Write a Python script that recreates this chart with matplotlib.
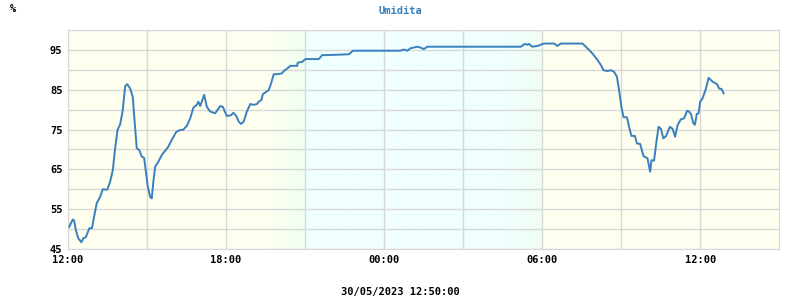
import matplotlib
matplotlib.use("Agg")
import matplotlib.pyplot as plt
import numpy as np
from matplotlib.colors import LinearSegmentedColormap

FIG_SIZE = (8, 3)
DPI = 100
LINE_COLOR = '#3a7fbf'
GRID_COLOR = '#d8d8d8'
DAY_COLOR = '#fffff0'
DUSK_COLOR = '#f0fff0'
NIGHT_COLOR = '#f0ffff'
FONT = 'DejaVu Sans Mono'

TITLE = "Umidita"
UNIT = "%"
TIMESTAMP = "30/05/2023 12:50:00"

# hours elapsed since 12:00 of the first day
hours = [0.05, 0.18, 0.23, 0.30, 0.39, 0.51, 0.58, 0.68, 0.81, 0.91, 0.99, 1.09,
         1.22, 1.32, 1.49, 1.60, 1.70, 1.79, 1.88, 1.98, 2.08, 2.17, 2.25, 2.36,
         2.46, 2.52, 2.61, 2.71, 2.80, 2.89, 2.95, 3.03, 3.12, 3.18, 3.24, 3.31,
         3.43, 3.56, 3.69, 3.81, 3.94, 4.11, 4.26, 4.36, 4.51, 4.64, 4.76, 4.89,
         4.95, 5.02, 5.17, 5.27, 5.40, 5.59, 5.78, 5.88, 6.03, 6.19, 6.28, 6.39,
         6.48, 6.57, 6.67, 6.79, 6.92, 7.05, 7.17, 7.24, 7.34, 7.40, 7.49, 7.62,
         7.71, 7.81, 7.96, 8.12, 8.19, 8.34, 8.44, 8.70, 8.72, 8.89, 9.01, 9.52,
         9.65, 9.84, 10.66, 10.82, 12.62, 12.75, 12.88, 13.00, 13.13, 13.26, 13.38,
         13.51, 13.64, 17.19, 17.34, 17.44, 17.50, 17.63, 17.82, 18.07, 18.45,
         18.58, 18.71, 19.53, 19.72, 19.91, 20.10, 20.23, 20.33, 20.48, 20.61,
         20.73, 20.84, 20.92, 21.01, 21.09, 21.22, 21.30, 21.39, 21.52, 21.60,
         21.72, 21.85, 22.00, 22.10, 22.15, 22.25, 22.33, 22.42, 22.51, 22.60,
         22.70, 22.85, 22.95, 23.05, 23.14, 23.27, 23.39, 23.50, 23.58, 23.65,
         23.74, 23.80, 23.87, 23.94, 24.00, 24.09, 24.22, 24.32, 24.47, 24.64,
         24.72, 24.81, 24.89]
humidity = [50.6, 52.4, 52.2, 49.7, 47.7, 46.7, 47.7, 48.0, 50.2, 50.2, 53.1, 56.5,
            58.1, 60.0, 59.9, 61.9, 64.8, 70.3, 74.9, 76.3, 79.9, 85.9, 86.4, 85.3,
            83.2, 77.8, 70.3, 69.8, 68.2, 67.9, 64.8, 60.6, 58.1, 57.7, 61.9, 65.7,
            66.9, 68.6, 69.7, 70.7, 72.4, 74.4, 74.9, 74.9, 75.9, 77.8, 80.5, 81.2,
            82.0, 80.9, 83.7, 80.7, 79.5, 79.1, 80.9, 80.7, 78.4, 78.6, 79.2, 78.4,
            77.0, 76.4, 77.0, 79.5, 81.4, 81.2, 81.4, 82.0, 82.4, 83.9, 84.3, 84.9,
            86.6, 88.9, 88.9, 89.1, 89.7, 90.4, 91.0, 91.0, 91.8, 92.0, 92.7, 92.7,
            93.7, 93.7, 93.9, 94.8, 94.8, 95.1, 94.8, 95.4, 95.6, 95.8, 95.6,
            95.2, 95.8, 95.8, 96.5, 96.3, 96.5, 95.8, 96.0, 96.6, 96.6,
            96.0, 96.6, 96.6, 95.4, 94.1, 92.5, 91.2, 89.9, 89.7, 89.9,
            89.5, 88.3, 84.9, 80.7, 78.1, 78.1, 75.7, 73.4, 73.4, 71.5,
            71.4, 68.3, 67.8, 64.4, 67.3, 67.2, 71.5, 75.7, 75.2, 72.8,
            73.3, 75.7, 75.2, 73.2, 76.1, 77.6, 77.8, 79.7, 79.5, 78.9,
            76.6, 76.2, 78.9, 79.1, 82.0, 82.8, 85.3, 88.0, 87.0, 86.4,
            85.3, 85.2, 84.1]

x_ticks = [0, 6, 12, 18, 24]
x_tick_labels = ["12:00", "18:00", "00:00", "06:00", "12:00"]
y_ticks = [45, 55, 65, 75, 85, 95]
X_RANGE = (0, 27)
Y_RANGE = (45, 100)

# background: day / dusk / night / dawn / day
band_stops = [0, 7.5, 9, 9, 16.5, 18, 18, 27]
band_colors = [DAY_COLOR, DAY_COLOR, DUSK_COLOR, NIGHT_COLOR, NIGHT_COLOR, DUSK_COLOR, DAY_COLOR, DAY_COLOR]


def background(ax):
    xs = np.linspace(X_RANGE[0], X_RANGE[1], 2000)
    rgb = np.array([matplotlib.colors.to_rgb(c) for c in band_colors])
    img = np.zeros((1, len(xs), 3))
    for k in range(3):
        for i, x in enumerate(xs):
            # pick the right segment (handles the sharp edges)
            j = np.searchsorted(band_stops, x, side='right') - 1
            j = min(j, len(band_stops) - 2)
            x0, x1 = band_stops[j], band_stops[j + 1]
            f = 0 if x1 == x0 else (x - x0) / (x1 - x0)
            img[0, i, k] = rgb[j, k] * (1 - f) + rgb[j + 1, k] * f
    ax.imshow(img, extent=(X_RANGE[0], X_RANGE[1], Y_RANGE[0], Y_RANGE[1]),
              aspect='auto', zorder=0, interpolation='bilinear')


fig = plt.figure(figsize=FIG_SIZE, dpi=DPI)
ax = fig.add_axes([0.085, 0.17, 0.889, 0.73])
background(ax)

ax.plot(hours, humidity, color=LINE_COLOR, linewidth=1.4, zorder=3)

ax.set_xlim(*X_RANGE)
ax.set_ylim(*Y_RANGE)
ax.set_xticks(x_ticks)
ax.set_xticklabels(x_tick_labels)
ax.set_xticks(np.arange(0, 27, 3), minor=True)
ax.set_yticks(y_ticks)
ax.set_yticks(np.arange(45, 101, 5), minor=True)
ax.grid(True, which='both', color=GRID_COLOR, linewidth=1, zorder=1)
ax.set_axisbelow(False)
for line in ax.get_xgridlines() + ax.get_ygridlines():
    line.set_zorder(1)
ax.tick_params(which='both', length=0, labelsize=7.5, pad=4)
for lab in ax.get_xticklabels() + ax.get_yticklabels():
    lab.set_fontfamily(FONT)
    lab.set_fontweight('bold')
for spine in ax.spines.values():
    spine.set_color(GRID_COLOR)

fig.text(0.5, 0.98, TITLE, ha='center', va='top', color=LINE_COLOR,
         family=FONT, fontweight='bold', fontsize=7.5)
fig.text(0.012, 0.985, UNIT, ha='left', va='top', family=FONT, fontweight='bold', fontsize=7.5)
fig.text(0.5, 0.027, TIMESTAMP, ha='center', va='center', family=FONT,
         fontweight='bold', fontsize=7.5)

fig.savefig("out.png", dpi=DPI)
